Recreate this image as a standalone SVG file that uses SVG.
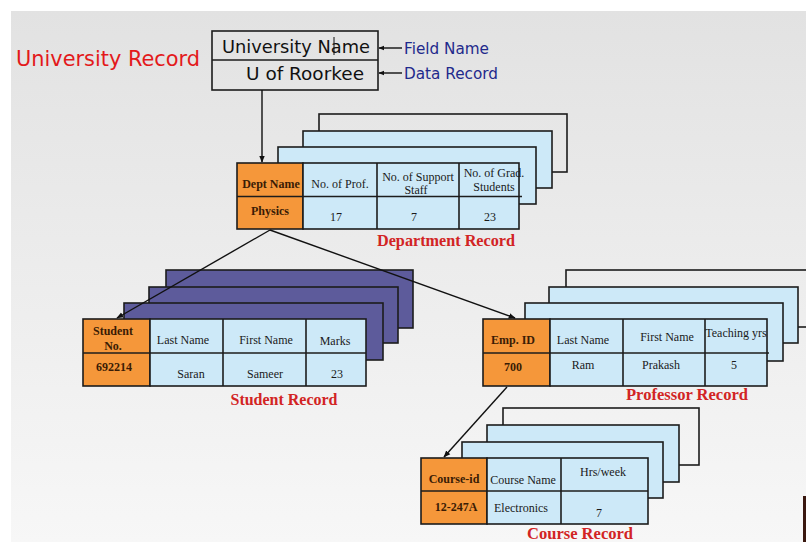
<svg xmlns="http://www.w3.org/2000/svg" width="806" height="542" viewBox="0 0 806 542">
<defs>
<linearGradient id="bg" x1="0" y1="0" x2="0" y2="1">
<stop offset="0" stop-color="#e2e2e2"/>
<stop offset="1" stop-color="#f7f7f7"/>
</linearGradient>
<marker id="ah" viewBox="0 0 10 10" refX="9" refY="5" markerWidth="7" markerHeight="7" markerUnits="userSpaceOnUse" orient="auto">
<path d="M0,1 L10,5 L0,9 z" fill="#111"/>
</marker>
<marker id="ahs" viewBox="0 0 10 10" refX="9" refY="5" markerWidth="6" markerHeight="6" markerUnits="userSpaceOnUse" orient="auto">
<path d="M0,1 L10,5 L0,9 z" fill="#111"/>
</marker>
</defs>
<style>
.ln{stroke:#1c1c1c;stroke-width:1.6;}
.blue{fill:#cde9f8;}
.purple{fill:#5d5b9b;}
.orange{fill:#f5973a;}
.open{fill:none;}
.t{font-family:"Liberation Serif","Times New Roman",serif;font-size:12px;fill:#1a1a1a;text-anchor:middle;}
.b{font-family:"Liberation Serif","Times New Roman",serif;font-size:12px;font-weight:bold;fill:#3a1c05;text-anchor:middle;}
.rec{font-family:"Liberation Serif","Times New Roman",serif;font-size:16px;font-weight:bold;fill:#d22424;text-anchor:middle;}
.hand{font-family:"DejaVu Sans","Liberation Sans",sans-serif;}
.conn{stroke:#111;stroke-width:1.4;fill:none;}
</style>
<rect width="806" height="542" fill="#ffffff"/>
<rect x="11" y="11" width="795" height="531" fill="url(#bg)"/>
<rect x="803" y="496" width="3" height="46" fill="#3a1810"/>

<g id="title">
<text x="16" y="66" class="hand" font-size="21" fill="#e3191b" textLength="184" lengthAdjust="spacingAndGlyphs">University Record</text>
</g>

<g id="university">
<rect x="212" y="31" width="166" height="59" class="ln" fill="none"/>
<line x1="212" y1="60" x2="378" y2="60" class="ln"/>
<text x="222" y="53" class="hand" font-size="18" fill="#111" textLength="148" lengthAdjust="spacingAndGlyphs">University Name</text>
<line x1="334" y1="37" x2="334" y2="55" stroke="#111" stroke-width="1"/>
<text x="246" y="80" class="hand" font-size="18" fill="#111" textLength="118" lengthAdjust="spacingAndGlyphs">U of Roorkee</text>
</g>

<g id="labels">
<text x="404" y="54" class="hand" font-size="15" fill="#1f2a8c" textLength="85" lengthAdjust="spacingAndGlyphs">Field Name</text>
<text x="404" y="79" class="hand" font-size="15" fill="#1f2a8c" textLength="94" lengthAdjust="spacingAndGlyphs">Data Record</text>
</g>

<g id="department">
<rect x="319" y="114" width="248" height="58" class="ln open"/>
<rect x="303" y="131" width="249" height="57" class="ln blue"/>
<rect x="278" y="147" width="258" height="57" class="ln blue"/>
<rect x="237" y="163" width="66" height="66" class="ln orange"/>
<rect x="303" y="163" width="216" height="66" class="ln blue"/>
<line x1="237" y1="196.5" x2="522" y2="196.5" class="ln"/>
<line x1="377" y1="163" x2="377" y2="229" class="ln"/>
<line x1="459" y1="163" x2="459" y2="229" class="ln"/>
<text x="271" y="188" class="b">Dept Name</text>
<text x="270" y="215" class="b">Physics</text>
<text x="340" y="188" class="t">No. of Prof.</text>
<text x="418" y="181" class="t">No. of Support</text>
<text x="416" y="194" class="t">Staff</text>
<text x="494" y="177" class="t" font-size="10.5">No. of Grad.</text>
<text x="494" y="191" class="t" font-size="10.5">Students</text>
<text x="336" y="221" class="t">17</text>
<text x="414" y="221" class="t">7</text>
<text x="490" y="221" class="t">23</text>
<text x="446" y="246" class="rec" textLength="138" lengthAdjust="spacingAndGlyphs">Department Record</text>
</g>

<g id="student">
<rect x="166" y="270" width="247" height="58" class="ln purple"/>
<rect x="149" y="287" width="249" height="56" class="ln purple"/>
<rect x="124" y="303" width="259" height="57" class="ln purple"/>
<rect x="83" y="319" width="67" height="67" class="ln orange"/>
<rect x="150" y="319" width="216" height="67" class="ln blue"/>
<line x1="83" y1="353" x2="366" y2="353" class="ln"/>
<line x1="223" y1="319" x2="223" y2="386" class="ln"/>
<line x1="306" y1="319" x2="306" y2="386" class="ln"/>
<text x="113" y="335" class="b">Student</text>
<text x="113" y="350" class="b">No.</text>
<text x="114" y="371" class="b" font-size="12.5">692214</text>
<text x="183" y="344" class="t">Last Name</text>
<text x="266" y="344" class="t">First Name</text>
<text x="335" y="345" class="t">Marks</text>
<text x="191" y="378" class="t">Saran</text>
<text x="265" y="378" class="t">Sameer</text>
<text x="337" y="378" class="t">23</text>
<text x="284" y="405" class="rec" textLength="107" lengthAdjust="spacingAndGlyphs">Student Record</text>
</g>

<g id="professor">
<rect x="566" y="270" width="248" height="57" class="ln open"/>
<rect x="549" y="287" width="249" height="56" class="ln blue"/>
<rect x="525" y="303" width="258" height="58" class="ln blue"/>
<rect x="483" y="319" width="67" height="67" class="ln orange"/>
<rect x="550" y="319" width="217" height="67" class="ln blue"/>
<line x1="483" y1="353" x2="769" y2="353" class="ln"/>
<line x1="623" y1="319" x2="623" y2="386" class="ln"/>
<line x1="705" y1="319" x2="705" y2="386" class="ln"/>
<text x="513" y="344" class="b">Emp. ID</text>
<text x="513" y="371" class="b">700</text>
<text x="583" y="344" class="t">Last Name</text>
<text x="667" y="341" class="t">First Name</text>
<text x="736" y="337" class="t" font-size="11.5">Teaching yrs</text>
<text x="583" y="369" class="t">Ram</text>
<text x="661" y="369" class="t">Prakash</text>
<text x="734" y="369" class="t">5</text>
<text x="687" y="400" class="rec" textLength="122" lengthAdjust="spacingAndGlyphs">Professor  Record</text>
</g>

<g id="course">
<rect x="503" y="408" width="196" height="57" class="ln open"/>
<rect x="487" y="425" width="192" height="57" class="ln blue"/>
<rect x="462" y="442" width="201" height="56" class="ln blue"/>
<rect x="421" y="458" width="66" height="66" class="ln orange"/>
<rect x="487" y="458" width="161" height="66" class="ln blue"/>
<line x1="421" y1="491" x2="648" y2="491" class="ln"/>
<line x1="561" y1="458" x2="561" y2="524" class="ln"/>
<text x="454" y="483" class="b">Course-id</text>
<text x="456" y="511" class="b">12-247A</text>
<text x="523" y="484" class="t">Course Name</text>
<text x="603" y="476" class="t">Hrs/week</text>
<text x="521" y="512" class="t">Electronics</text>
<text x="599" y="517" class="t">7</text>
<text x="580" y="539" class="rec" textLength="106" lengthAdjust="spacingAndGlyphs">Course  Record</text>
</g>

<g id="connectors">
<line x1="262" y1="90" x2="262" y2="162" class="conn" marker-end="url(#ah)"/>
<line x1="402" y1="48" x2="379" y2="48" class="conn" stroke-width="1.2" marker-end="url(#ahs)"/>
<line x1="402" y1="73" x2="379" y2="73" class="conn" stroke-width="1.2" marker-end="url(#ahs)"/>
<line x1="270" y1="230" x2="117" y2="318" class="conn" marker-end="url(#ah)"/>
<line x1="270" y1="230" x2="515" y2="318" class="conn" marker-end="url(#ah)"/>
<line x1="507" y1="387" x2="444" y2="457" class="conn" marker-end="url(#ah)"/>
</g>
</svg>
